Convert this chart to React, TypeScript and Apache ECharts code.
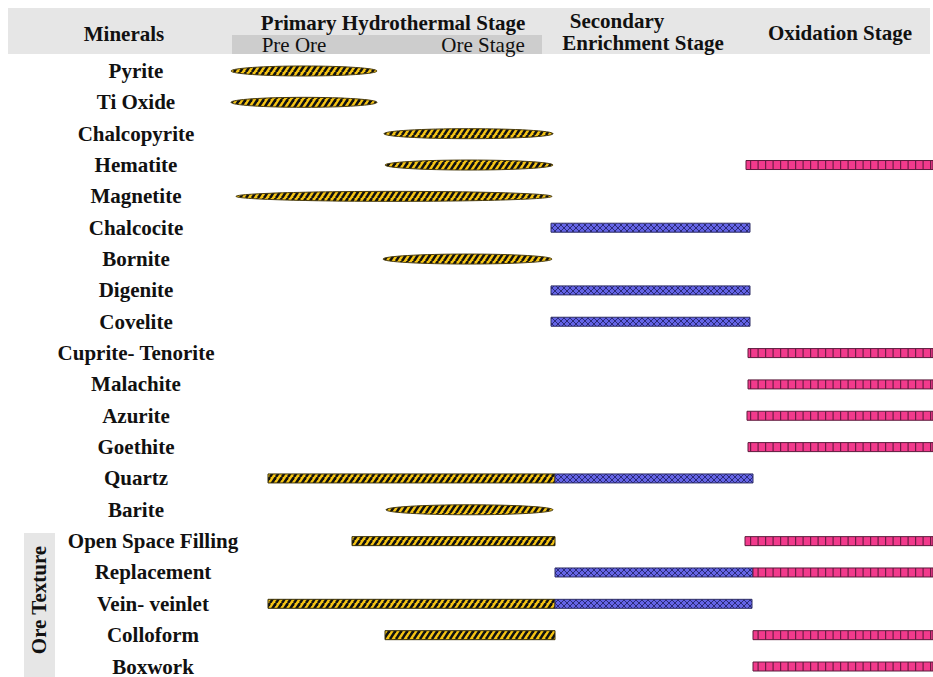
import React, { useEffect, useRef } from "react";
import * as echarts from "echarts";

// Rows (top to bottom)
const minerals = [
  "Pyrite", "Ti Oxide", "Chalcopyrite", "Hematite", "Magnetite", "Chalcocite",
  "Bornite", "Digenite", "Covelite", "Cuprite- Tenorite", "Malachite", "Azurite",
  "Goethite", "Quartz", "Barite", "Open Space Filling", "Replacement",
  "Vein- veinlet", "Colloform", "Boxwork",
];
const textureStart = 15; // first "Ore Texture" row

// Relative timeline positions [row, start, end]
const hydroLenses: [string, number, number][] = [
  ["Pyrite", 231, 377], ["Ti Oxide", 231, 377], ["Chalcopyrite", 384, 553],
  ["Hematite", 385, 553], ["Magnetite", 236, 552], ["Bornite", 383, 552],
  ["Barite", 386, 553],
];
const hydroBars: [string, number, number][] = [
  ["Quartz", 268, 555], ["Open Space Filling", 352, 555],
  ["Vein- veinlet", 268, 555], ["Colloform", 385, 555],
];
const secondaryBars: [string, number, number][] = [
  ["Chalcocite", 551, 750], ["Digenite", 551, 750], ["Covelite", 551, 750],
  ["Quartz", 555, 753], ["Replacement", 555, 753], ["Vein- veinlet", 555, 752],
];
const oxidationBars: [string, number, number][] = [
  ["Hematite", 746, 933], ["Cuprite- Tenorite", 748, 933], ["Malachite", 748, 933],
  ["Azurite", 747, 933], ["Goethite", 748, 933], ["Open Space Filling", 745, 933],
  ["Replacement", 753, 933], ["Colloform", 753, 933], ["Boxwork", 753, 933],
];

const SERIF = "'Liberation Serif', 'Times New Roman', serif";

function tile(w: number, h: number, draw: (c: CanvasRenderingContext2D) => void) {
  const c = document.createElement("canvas");
  c.width = w;
  c.height = h;
  const ctx = c.getContext("2d")!;
  draw(ctx);
  return { image: c, repeat: "repeat", imageWidth: w, imageHeight: h } as any;
}

function toData(list: [string, number, number][]) {
  return list.map(([n, s, e]) => [s, e, minerals.indexOf(n)]);
}

export default function App() {
  const ref = useRef<HTMLDivElement>(null);
  useEffect(() => {
    document.body.style.margin = "0";
    const chart = echarts.init(ref.current!, null, { renderer: "svg" });

    const yellow = tile(6, 9, (c) => {
      c.fillStyle = "#f5c414";
      c.fillRect(0, 0, 6, 9);
      c.strokeStyle = "#111";
      c.lineWidth = 2.6;
      for (let i = -1; i <= 1; i++) {
        c.beginPath();
        c.moveTo(i * 6, 9);
        c.lineTo(i * 6 + 6, 0);
        c.stroke();
      }
    });
    const blue = tile(6, 6, (c) => {
      c.fillStyle = "#6464e6";
      c.fillRect(0, 0, 6, 6);
      c.strokeStyle = "#2b2b78";
      c.lineWidth = 1;
      c.beginPath();
      c.moveTo(0, 0); c.lineTo(6, 6);
      c.moveTo(0, 6); c.lineTo(6, 0);
      c.stroke();
    });
    const pink = tile(15, 12, (c) => {
      c.fillStyle = "#f23a8c";
      c.fillRect(0, 0, 15, 12);
      c.fillStyle = "#6e1d45";
      c.fillRect(0, 0, 1.2, 12);
      c.fillRect(7.5, 0, 1.2, 12);
    });

    const rectSeries = (name: string, data: number[][], fill: any, stroke: string) => ({
      type: "custom",
      name,
      clip: false,
      encode: { x: [0, 1], y: 2 },
      data,
      renderItem: (params: any, api: any) => {
        const p1 = api.coord([api.value(0), api.value(2)]);
        const p2 = api.coord([api.value(1), api.value(2)]);
        const h = 9;
        return {
          type: "rect",
          shape: { x: p1[0], y: p1[1] - h / 2, width: p2[0] - p1[0], height: h },
          style: { fill, stroke, lineWidth: 1 },
        };
      },
    });

    const lensSeries = {
      type: "custom",
      name: "Primary lenses",
      clip: false,
      encode: { x: [0, 1], y: 2 },
      data: toData(hydroLenses),
      renderItem: (params: any, api: any) => {
        const p1 = api.coord([api.value(0), api.value(2)]);
        const p2 = api.coord([api.value(1), api.value(2)]);
        return {
          type: "ellipse",
          shape: { cx: (p1[0] + p2[0]) / 2, cy: p1[1], rx: (p2[0] - p1[0]) / 2, ry: 5 },
          style: { fill: yellow, stroke: "#4a3c0c", lineWidth: 1 },
        };
      },
    };

    const headerText = (text: string, x: number, y: number, bold = true, extra: any = {}) => ({
      type: "text",
      x,
      y,
      z: 10,
      style: {
        text,
        fill: "#111",
        font: `${bold ? "bold " : ""}21px ${SERIF}`,
        textAlign: "center",
        textVerticalAlign: "middle",
      },
      ...extra,
    });

    chart.setOption({
      animation: false,
      backgroundColor: "#ffffff",
      grid: { left: 231, right: 0, top: 71, bottom: 10, containLabel: false },
      xAxis: { type: "value", min: 231, max: 933, show: false },
      yAxis: {
        type: "category",
        data: minerals,
        inverse: true,
        boundaryGap: false,
        axisLine: { show: false },
        axisTick: { show: false },
        splitLine: { show: false },
        axisLabel: {
          margin: 95,
          align: "center",
          formatter: (v: string, i: number) => (i >= textureStart ? `{t|${v}}` : `{m|${v}}`),
          rich: {
            m: { fontFamily: SERIF, fontWeight: "bold", fontSize: 21, color: "#111" },
            t: { fontFamily: SERIF, fontWeight: "bold", fontSize: 21, color: "#111", padding: [0, 0, 0, 34] },
          },
        },
      },
      graphic: [
        { type: "rect", z: 0, shape: { x: 8, y: 8, width: 922, height: 46 }, style: { fill: "#e6e6e6" } },
        { type: "rect", z: 1, shape: { x: 232, y: 35, width: 310, height: 19 }, style: { fill: "#cdcdcd" } },
        { type: "rect", z: 0, shape: { x: 24, y: 533, width: 31, height: 144 }, style: { fill: "#e6e6e6" } },
        headerText("Minerals", 124, 34),
        headerText("Primary Hydrothermal Stage", 393, 23),
        headerText("Pre Ore", 294, 45, false),
        headerText("Ore Stage", 483, 45, false),
        headerText("Secondary", 617, 21),
        headerText("Enrichment Stage", 643, 43),
        headerText("Oxidation Stage", 840, 33),
        headerText("Ore Texture", 39, 600, true, { rotation: Math.PI / 2 }),
      ],
      series: [
        lensSeries,
        rectSeries("Primary bars", toData(hydroBars), yellow, "#3a3008"),
        rectSeries("Secondary enrichment", toData(secondaryBars), blue, "#2e2e66"),
        rectSeries("Oxidation", toData(oxidationBars), pink, "#5e1a3c"),
      ],
    } as any);

    return () => chart.dispose();
  }, []);

  return <div ref={ref} style={{ width: 933, height: 677, position: "absolute", left: 0, top: 0 }} />;
}
